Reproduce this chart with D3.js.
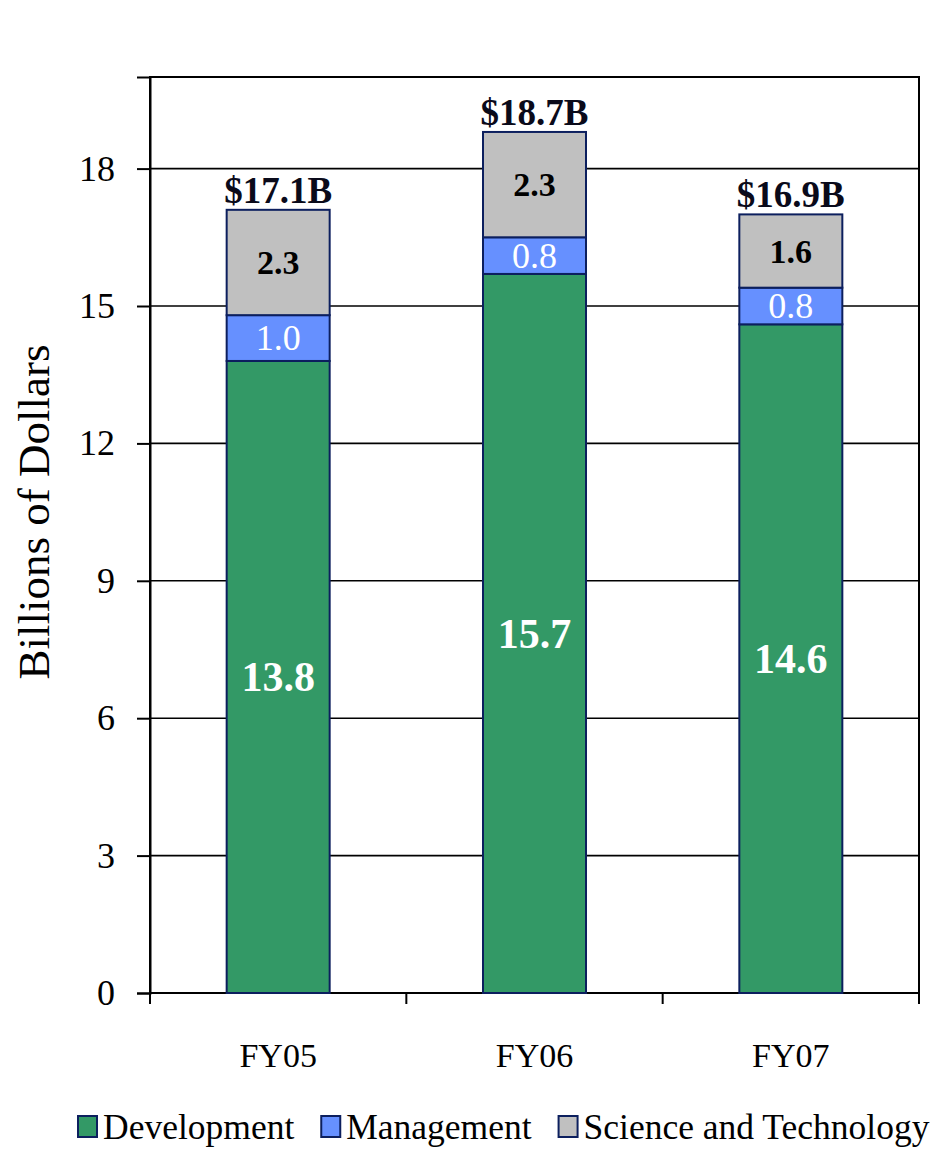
<!DOCTYPE html>
<html>
<head>
<meta charset="utf-8">
<script src="https://cdn.jsdelivr.net/npm/d3@7"></script>
<style>
  html, body { margin: 0; padding: 0; background: #fff; }
  svg { display: block; font-family: "Liberation Serif", "Times New Roman", serif; }
</style>
</head>
<body>
<svg id="chart" width="941" height="1153"></svg>
<script>
// Budget by fiscal year, billions of dollars
const years = ["FY05", "FY06", "FY07"];
const development = [13.8, 15.7, 14.6];
const management = [1.0, 0.8, 0.8];
const scienceTech = [2.3, 2.3, 1.6];
const totalLabels = ["$17.1B", "$18.7B", "$16.9B"];
const seriesNames = ["Development", "Management", "Science and Technology"];
const yTicks = [0, 3, 6, 9, 12, 15, 18];

const colors = ["#339966", "#6690ff", "#c0c0c0"];
const labelFill = ["#ffffff", "#ffffff", "#000000"];
const labelWeight = ["bold", "normal", "bold"];
const labelSize = [42, 36, 34];
const edge = "#0c1f5e";

const svg = d3.select("#chart");
const plotL = 150, plotR = 919, plotT = 77, plotB = 993;

const xEdges = d3.scaleBand().domain(years).range([plotL, plotR]);
const y = d3.scaleLinear().domain([0, 20]).range([plotB, plotT]);

const rows = years.map((yr, i) => ({
  year: yr,
  Development: development[i],
  Management: management[i],
  "Science and Technology": scienceTech[i]
}));
const stacked = d3.stack().keys(seriesNames)(rows);

// gridlines
svg.append("g")
  .selectAll("line")
  .data(yTicks.filter(t => t > 0))
  .join("line")
  .attr("x1", plotL).attr("x2", plotR)
  .attr("y1", d => y(d)).attr("y2", d => y(d))
  .attr("stroke", "#000").attr("stroke-width", 1.6);

// plot frame
svg.append("rect")
  .attr("x", plotL).attr("y", plotT)
  .attr("width", plotR - plotL).attr("height", plotB - plotT)
  .attr("fill", "none").attr("stroke", "#000").attr("stroke-width", 2);

// y axis
const yAxis = svg.append("g")
  .attr("transform", `translate(${plotL},0)`)
  .call(d3.axisLeft(y).tickValues(yTicks).tickSize(13).tickPadding(22).tickFormat(d3.format("d")));
yAxis.attr("font-family", null);
yAxis.select(".domain").attr("stroke", "#000").attr("stroke-width", 2);
yAxis.selectAll(".tick line").attr("stroke", "#000").attr("stroke-width", 2);
yAxis.selectAll(".tick text")
  .attr("font-family", "Liberation Serif, serif")
  .attr("font-size", 36).attr("fill", "#000");

// x axis: ticks at category boundaries
const boundaries = years.map(d => xEdges(d)).concat([plotR]);
svg.append("g")
  .selectAll("line")
  .data(boundaries)
  .join("line")
  .attr("x1", d => d).attr("x2", d => d)
  .attr("y1", plotB).attr("y2", plotB + 11)
  .attr("stroke", "#000").attr("stroke-width", 2);
svg.append("line")
  .attr("x1", plotL).attr("x2", plotR)
  .attr("y1", plotB).attr("y2", plotB)
  .attr("stroke", "#000").attr("stroke-width", 2.2);

svg.append("g")
  .selectAll("text")
  .data(years)
  .join("text")
  .attr("x", d => xEdges(d) + xEdges.bandwidth() / 2)
  .attr("y", 1067)
  .attr("text-anchor", "middle")
  .attr("font-size", 34)
  .text(d => d);

// y axis title
svg.append("text")
  .attr("transform", "translate(49,512) rotate(-90)")
  .attr("text-anchor", "middle")
  .attr("font-size", 45)
  .text("Billions of Dollars");

// stacked bars
const barW = 103;
const cx = d => xEdges(d) + xEdges.bandwidth() / 2;
stacked.forEach((layer, si) => {
  const g = svg.append("g");
  g.selectAll("rect")
    .data(layer)
    .join("rect")
    .attr("x", d => cx(d.data.year) - barW / 2)
    .attr("width", barW)
    .attr("y", d => y(d[1]))
    .attr("height", d => y(d[0]) - y(d[1]))
    .attr("fill", colors[si])
    .attr("stroke", edge)
    .attr("stroke-width", 2);
  g.selectAll("text")
    .data(layer)
    .join("text")
    .attr("x", d => cx(d.data.year))
    .attr("y", d => (y(d[0]) + y(d[1])) / 2)
    .attr("dy", "0.34em")
    .attr("text-anchor", "middle")
    .attr("font-size", labelSize[si])
    .attr("font-weight", labelWeight[si])
    .attr("fill", labelFill[si])
    .text(d => (d[1] - d[0]).toFixed(1));
});

// totals above bars
const topLayer = stacked[stacked.length - 1];
svg.append("g")
  .selectAll("text")
  .data(topLayer)
  .join("text")
  .attr("x", d => cx(d.data.year))
  .attr("y", d => y(d[1]) - 7)
  .attr("text-anchor", "middle")
  .attr("font-size", 37)
  .attr("font-weight", "bold")
  .attr("fill", "#0a0a1a")
  .text((d, i) => totalLabels[i]);

// legend
const legend = svg.append("g");
let lx = 78;
seriesNames.forEach((name, i) => {
  legend.append("rect")
    .attr("x", lx).attr("y", 1116)
    .attr("width", 19).attr("height", 21)
    .attr("fill", colors[i]).attr("stroke", edge).attr("stroke-width", 2);
  const t = legend.append("text")
    .attr("x", lx + 25).attr("y", 1139)
    .attr("font-size", 35.5)
    .text(name);
  lx += 25 + t.node().getComputedTextLength() + 27;
});
</script>
</body>
</html>
